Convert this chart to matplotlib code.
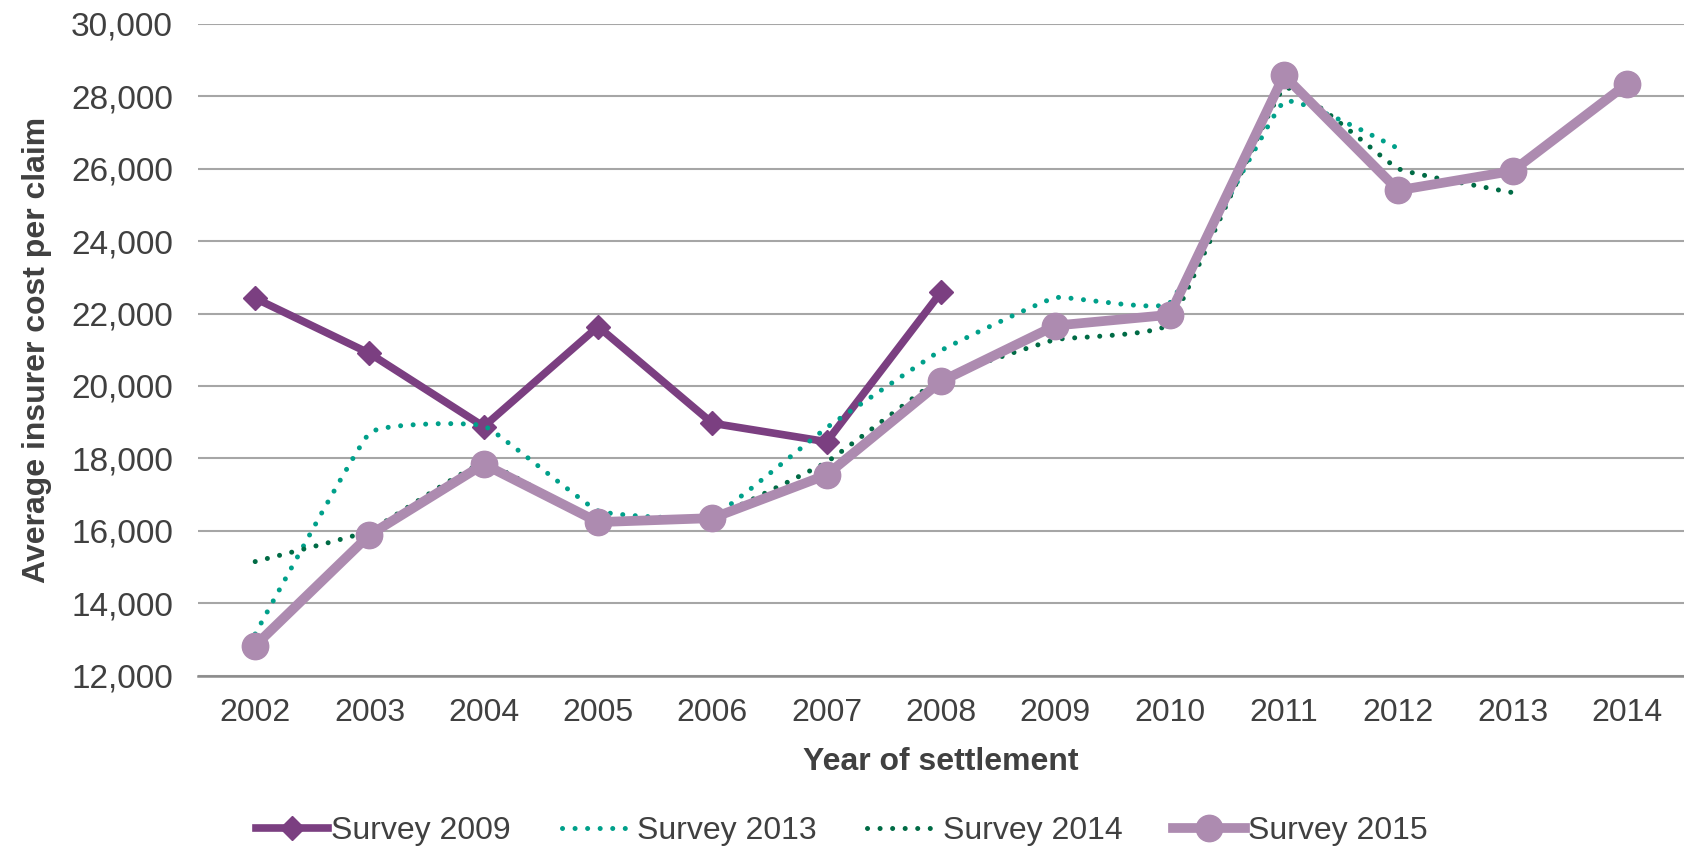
"""Average insurer cost per claim by year of settlement, four survey vintages."""
import matplotlib
matplotlib.use("Agg")
import matplotlib.pyplot as plt
import numpy as np
from matplotlib.lines import Line2D
from matplotlib.patches import PathPatch
from matplotlib.path import Path

years = ["2002", "2003", "2004", "2005", "2006", "2007", "2008",
         "2009", "2010", "2011", "2012", "2013", "2014"]

survey_2009 = [22420, 20900, 18880, 21640, 18970, 18460, 22590]
survey_2013 = [13150, 18700, 18900, 16550, 16390, 18850, 20980,
               22440, 22290, 27850, 26560]
survey_2014 = [15150, 16000, 17870, 16250, 16380, 17900, 20210,
               21280, 21720, 28220, 26000, 25340]
survey_2015 = [12830, 15885, 17840, 16240, 16350, 17545, 20125,
               21667, 21964, 28577, 25403, 25937, 28339]

C09 = "#7B3F81"
C13 = "#00A08A"
C14 = "#006B45"
C15 = "#AD8BB0"
GRID = "#A6A6A6"
TXT = "#404040"
FS = 23

plt.rcParams.update({
    "font.family": ["Liberation Sans", "DejaVu Sans"],
    "font.size": FS,
    "text.color": TXT,
    "axes.labelcolor": TXT,
    "xtick.color": TXT,
    "ytick.color": TXT,
})


def smooth_path(xs, ys, k=20.0):
    """Gentle bezier through the points (like Excel smoothed lines)."""
    pts = np.column_stack([xs, ys]).astype(float)
    n = len(pts)
    verts = [pts[0]]
    codes = [Path.MOVETO]
    for i in range(n - 1):
        p0 = pts[max(i - 1, 0)]
        p1 = pts[i]
        p2 = pts[i + 1]
        p3 = pts[min(i + 2, n - 1)]
        c1 = p1 + (p2 - p0) / k
        c2 = p2 - (p3 - p1) / k
        verts += [c1, c2, p2]
        codes += [Path.CURVE4] * 3
    return Path(verts, codes)


fig = plt.figure(figsize=(16.84, 8.52), dpi=100)
ax = fig.add_axes([0.1176, 0.207, 0.8824, 0.765])

x = np.arange(len(years))
DOT = (0, (0.01, 2.5))

ax.plot(x[:len(survey_2009)], survey_2009, color=C09, lw=5.5, marker="D",
        ms=12, zorder=3, solid_joinstyle="miter")

for vals, col in [(survey_2013, C13), (survey_2014, C14)]:
    p = smooth_path(x[:len(vals)], vals)
    patch = PathPatch(p, facecolor="none", edgecolor=col, lw=3.6,
                      linestyle=DOT, capstyle="round", zorder=4)
    ax.add_patch(patch)

ax.plot(x, survey_2015, color=C15, lw=7, marker="o", ms=19, zorder=5)

ax.set_xlim(-0.5, len(years) - 0.5)
ax.set_ylim(12000, 30000)
ax.set_yticks(np.arange(12000, 30001, 2000))
ax.yaxis.set_major_formatter(matplotlib.ticker.FuncFormatter(lambda v, _: f"{v:,.0f}"))
ax.set_xticks(x, years)
ax.tick_params(axis="both", length=0, labelsize=FS)
ax.tick_params(axis="y", labelsize=24, pad=18)
ax.tick_params(axis="x", pad=16)

ax.grid(axis="y", color=GRID, lw=1.5)
ax.set_axisbelow(True)
for s in ["top", "right", "left"]:
    ax.spines[s].set_visible(False)
ax.spines["bottom"].set_color("#8C8C8C")
ax.spines["bottom"].set_linewidth(1.8)

ax.set_xlabel("Year of settlement", fontsize=FS, fontweight="bold", labelpad=14)
ax.set_ylabel("Average insurer cost per claim", fontsize=FS, fontweight="bold",
              labelpad=14)

handles = [
    Line2D([], [], color=C09, lw=5.5, marker="D", ms=12),
    Line2D([], [], color=C13, lw=3.6, linestyle=DOT, dash_capstyle="round"),
    Line2D([], [], color=C14, lw=3.6, linestyle=DOT, dash_capstyle="round"),
    Line2D([], [], color=C15, lw=7, marker="o", ms=19),
]
labels = ["Survey 2009", "Survey 2013", "Survey 2014", "Survey 2015"]
fig.legend(handles, labels, loc="center", bbox_to_anchor=(0.5, 0.025),
           ncol=4, frameon=False, fontsize=FS, handlelength=2.25,
           handletextpad=0.1, columnspacing=1.6)

fig.savefig("out.png", dpi=100)
